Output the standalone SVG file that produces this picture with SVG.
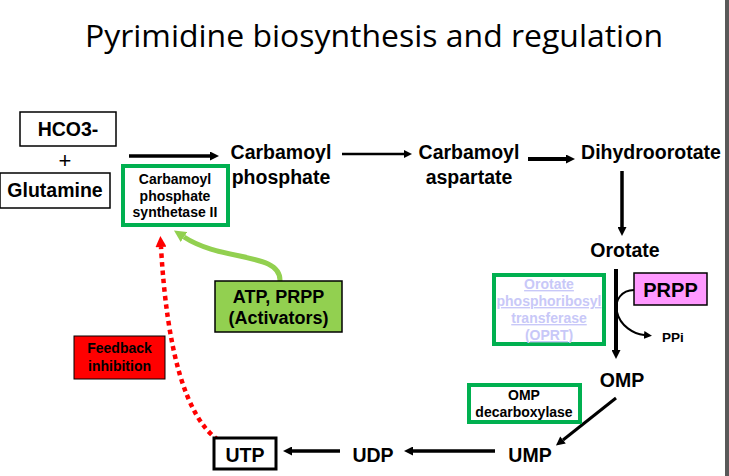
<svg xmlns="http://www.w3.org/2000/svg" width="729" height="476" viewBox="0 0 729 476">
<style>
.b{font-family:"Liberation Sans",Arial,sans-serif;font-weight:bold;fill:#000;text-anchor:middle}
.L{font-size:19.5px}
.s{font-size:14px}
.box{fill:#fff;stroke:#000;stroke-width:1.5}
.enz{fill:#fff;stroke:#00B050;stroke-width:4}
.ar{fill:none;stroke:#000}
.lnk{fill:#C8C8F8;text-decoration:underline}
</style>
<defs>
<marker id="ah" viewBox="0 0 10 10" refX="0" refY="5" markerWidth="10" markerHeight="9" markerUnits="userSpaceOnUse" orient="auto"><path d="M0,0 L10,5 L0,10 z" fill="#000"/></marker>
<marker id="ahs" viewBox="0 0 10 10" refX="0" refY="5" markerWidth="8" markerHeight="8" markerUnits="userSpaceOnUse" orient="auto"><path d="M0,0 L10,5 L0,10 z" fill="#000"/></marker>
<marker id="ahr" viewBox="0 0 10 10" refX="0" refY="5" markerWidth="12" markerHeight="11" markerUnits="userSpaceOnUse" orient="auto"><path d="M0,0 L10,5 L0,10 z" fill="#FF0000"/></marker>
<marker id="ahg" viewBox="0 0 10 10" refX="0" refY="5" markerWidth="12" markerHeight="13" markerUnits="userSpaceOnUse" orient="auto"><path d="M0,0 L10,5 L0,10 z" fill="#92D050"/></marker>
</defs>
<rect width="729" height="476" fill="#fff"/>
<rect x="725" y="0" width="4" height="476" fill="#595959"/>
<text x="85" y="47" font-family="'Open Sans','Noto Sans',sans-serif" font-size="31" textLength="578" lengthAdjust="spacingAndGlyphs" fill="#000">Pyrimidine biosynthesis and regulation</text>

<g id="connectors">
<path class="ar" d="M129,156 L210,156" stroke-width="3.5" marker-end="url(#ah)"/>
<path class="ar" d="M342,154 L404,154" stroke-width="2.5" marker-end="url(#ahs)"/>
<path class="ar" d="M528,159 L566,159" stroke-width="4" marker-end="url(#ah)"/>
<path class="ar" d="M622,171 L622,227" stroke-width="3.5" marker-end="url(#ah)"/>
<path class="ar" d="M616,269 L616,350" stroke-width="4" marker-end="url(#ah)"/>
<path class="ar" d="M634,290 C622,290 614,300 617,312 C620,326 634,334 644,335" stroke-width="2" marker-end="url(#ahs)"/>
<path class="ar" d="M616,398 L563,440" stroke-width="3" marker-end="url(#ah)"/>
<path class="ar" d="M495,451 L413,451" stroke-width="3.5" marker-end="url(#ah)"/>
<path class="ar" d="M340,451 L292,451" stroke-width="3.5" marker-end="url(#ah)"/>
<path d="M218,440 Q170,405 161,247" fill="none" stroke="#FF0000" stroke-width="4.5" stroke-dasharray="4.5 4" marker-end="url(#ahr)"/>
<path d="M280,281 C281,252 222,262 184,237" fill="none" stroke="#92D050" stroke-width="5" marker-end="url(#ahg)"/>
</g>

<g id="hco3"><rect class="box" x="20" y="112" width="96" height="34"/><text class="b L" x="68" y="136">HCO3-</text></g>
<g id="plus"><text x="65" y="168" font-family="'Liberation Sans',Arial,sans-serif" font-size="22" text-anchor="middle">+</text></g>
<g id="glutamine"><rect class="box" x="0" y="173" width="110" height="35"/><text class="b L" x="55" y="197">Glutamine</text></g>
<g id="cps2"><rect class="enz" x="123" y="166" width="105" height="59"/><text class="b s" x="175" y="184">Carbamoyl</text><text class="b s" x="175" y="201">phosphate</text><text class="b s" x="175" y="217">synthetase II</text></g>
<g id="carbamoyl-phosphate"><text class="b L" x="281" y="159">Carbamoyl</text><text class="b L" x="281" y="184">phosphate</text></g>
<g id="carbamoyl-aspartate"><text class="b L" x="469" y="159">Carbamoyl</text><text class="b L" x="469" y="184">aspartate</text></g>
<g id="dihydroorotate"><text class="b L" x="651" y="159">Dihydroorotate</text></g>
<g id="orotate"><text class="b L" x="625" y="257">Orotate</text></g>
<g id="oprt"><rect class="enz" x="494" y="275" width="110" height="69"/><text class="b s lnk" x="549" y="289">Orotate</text><text class="b s lnk" x="549" y="306">phosphoribosyl</text><text class="b s lnk" x="549" y="323">transferase</text><text class="b s lnk" x="549" y="340">(OPRT)</text></g>
<g id="prpp"><rect x="634" y="273" width="73" height="32" fill="#FF99FF" stroke="#000" stroke-width="1.5"/><text class="b" x="670.5" y="297" font-size="20">PRPP</text></g>
<g id="ppi"><text class="b" x="673" y="342" font-size="13.5">PPi</text></g>
<g id="omp"><text class="b L" x="622" y="387">OMP</text></g>
<g id="omp-decarboxylase"><rect class="enz" x="469" y="385" width="111" height="37"/><text class="b s" x="524" y="400">OMP</text><text class="b s" x="524" y="417">decarboxylase</text></g>
<g id="ump"><text class="b L" x="530" y="462">UMP</text></g>
<g id="udp"><text class="b L" x="373" y="462">UDP</text></g>
<g id="utp"><rect x="214" y="438" width="62" height="31" fill="#fff" stroke="#000" stroke-width="3"/><text class="b L" x="245" y="462">UTP</text></g>
<g id="activators"><rect x="215" y="281" width="127" height="51" fill="#92D050" stroke="#000" stroke-width="1.5"/><text class="b" x="278.5" y="303" font-size="18">ATP, PRPP</text><text class="b" x="278.5" y="324" font-size="18">(Activators)</text></g>
<g id="feedback"><rect x="74" y="336" width="91" height="43" fill="#FF0000" stroke="#000" stroke-width="1"/><text class="b s" x="119.5" y="353" fill="#1a1a1a">Feedback</text><text class="b s" x="119.5" y="371" fill="#1a1a1a">inhibition</text></g>
</svg>
